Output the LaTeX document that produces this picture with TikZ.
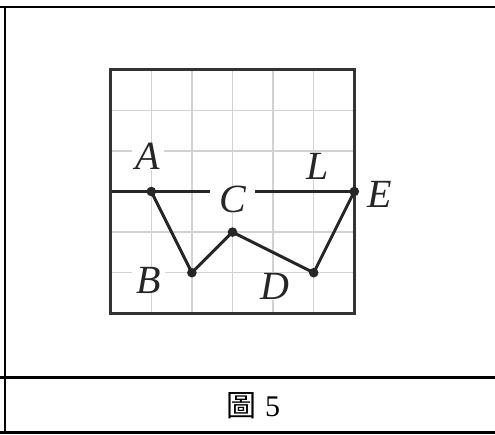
\documentclass[tikz,border=0pt]{standalone}
\usepackage{fontspec}
\setmainfont{Liberation Serif}
\newfontfamily\cjk{Noto Sans CJK TC}
\begin{document}
\begin{tikzpicture}[x=1pt,y=-1pt,
  rule/.style={line width=2.2pt,black},
  gridline/.style={line width=1.5pt,color=gray!35},
  frameline/.style={line width=3pt,color=black!80},
  pathline/.style={line width=3pt,color=black!85,line join=round},
  ptlabel/.style={fill=white,inner xsep=4pt,inner ysep=0pt,font=\fontsize{40}{42}\selectfont\itshape,text=black!85},
  ptdot/.style={fill=black!85}]
\useasboundingbox (0,0) rectangle (495,434);
% table rules
\draw[rule] (0,7) -- (495,7);
\draw[rule] (5,7) -- (5,434);
\draw[rule] (0,377.5) -- (495,377.5);
\draw[rule] (0,432.5) -- (495,432.5);
\node[inner sep=0pt] (cap) at (253,406) {\fontsize{30}{32}\selectfont{\cjk 圖}\hspace{9pt}5};
% figure
\begin{scope}[shift={(110.7,313.3)},x=40.6pt,y=40.6pt]
  \foreach \i in {1,...,5} {
    \draw[gridline] (\i,0) -- (\i,6);
    \draw[gridline] (0,\i) -- (6,\i);
  }
  \coordinate (A) at (1,3);
  \coordinate (B) at (2,1);
  \coordinate (C) at (3,2);
  \coordinate (D) at (5,1);
  \coordinate (E) at (6,3);
  \coordinate (L0) at (0,3);
  \draw[pathline] (L0) -- (E);
  \node[ptlabel] (lA) at (0.92,3.86) {A};
  \node[ptlabel] (lL) at (5.09,3.61) {L};
  \node[ptlabel,inner xsep=9pt] (lC) at (3.0,2.8) {C};
  \node[ptlabel] (lB) at (0.93,0.82) {B};
  \node[ptlabel] (lD) at (4.05,0.65) {D};
  \draw[frameline] (0,0) rectangle (6,6);
  \draw[pathline] (A) -- (B) -- (C) -- (D) -- (E);
  \foreach \p in {A,B,C,D,E} \fill[ptdot] (\p) circle (4.8pt);
  \node[ptlabel,fill=none] (lE) at (6.62,2.92) {E};
\end{scope}
\end{tikzpicture}
\end{document}
